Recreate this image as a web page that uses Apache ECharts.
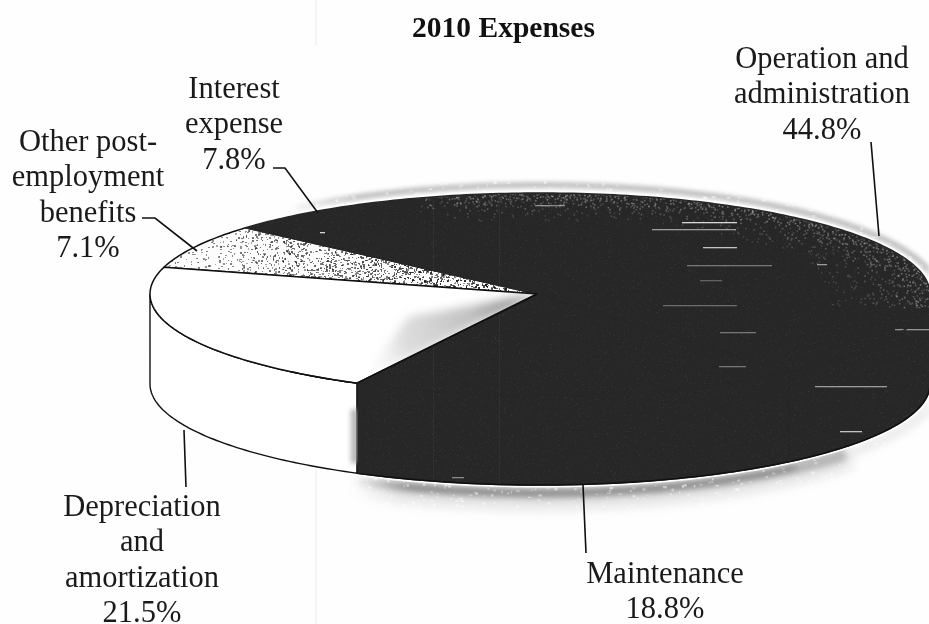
<!DOCTYPE html>
<html>
<head>
<meta charset="utf-8">
<style>html,body{margin:0;padding:0;background:#fefefe}#c{width:929px;height:624px}</style>
<script src="https://cdn.jsdelivr.net/npm/echarts@6/dist/echarts.min.js"></script>
</head>
<body>
<div id="c"></div>
<script>
// 2010 expense shares, clockwise from the left edge of the pie
const categories = ['Other post-\nemployment\nbenefits', 'Interest\nexpense', 'Operation and\nadministration', 'Maintenance', 'Depreciation\nand\namortization'];
const shares = [7.1, 7.8, 44.8, 18.8, 21.5];
const titleText = '2010 Expenses';

// Tilted-disc geometry
const CX = 540, CY = 294, RX = 390, RY = 101, DEPTH = 90, HUB = [537, 294];
const START_DEG = 195.4;
const INK = '#101010', DARK = '#272727', SERIF = '"Liberation Serif","Times New Roman",serif';

const total = shares.reduce((a, b) => a + b, 0);
const rad = d => d * Math.PI / 180;
const rim = (deg, dy = 0, grow = 0) => [CX + (RX + grow) * Math.cos(rad(deg)), CY + (RY + grow) * Math.sin(rad(deg)) + dy];
function sliceSpan(i) {
  let from = START_DEG;
  for (let k = 0; k < i; k++) from += shares[k] / total * 360;
  return [from, from + shares[i] / total * 360];
}
function arc(a, b, dy = 0, grow = 0) {
  const pts = [], n = Math.max(2, Math.ceil(Math.abs(b - a)));
  for (let k = 0; k <= n; k++) pts.push(rim(a + (b - a) * k / n, dy, grow));
  return pts;
}
// Deterministic generator for print grain
function grain(seed) {
  let s = seed;
  return () => (s = (s * 1664525 + 1013904223) >>> 0) / 4294967296;
}
function makeCanvas() {
  const c = document.createElement('canvas');
  c.width = 929; c.height = 624;
  return c;
}
// Paints on a scratch layer, then lays the whole layer down once through a blur
function softLayer(target, blur, paint) {
  const layer = makeCanvas();
  paint(layer.getContext('2d'));
  const g = target.getContext('2d');
  g.filter = 'blur(' + blur + 'px)';
  g.drawImage(layer, 0, 0);
  g.filter = 'none';
}
function tracePath(g, pts) {
  g.beginPath();
  pts.forEach((p, k) => k ? g.lineTo(p[0], p[1]) : g.moveTo(p[0], p[1]));
}
function fullImage(canvas) {
  return { type: 'image', style: { image: canvas, x: 0, y: 0, width: 929, height: 624 } };
}
// Halftone for the dotted slice: dots grow denser and darker towards the hub
function stippleTexture() {
  const c = makeCanvas(), g = c.getContext('2d'), r = grain(11);
  g.fillStyle = '#fcfcfc'; g.fillRect(0, 0, 929, 624);
  softLayer(c, 0.45, d => {
    for (let y = 225; y < 300; y++) for (let x = 160; x < 545; x++) {
      const t = (x - 160) / 380;
      if (r() < 0.025 + 0.24 * t) {
        d.fillStyle = 'rgba(25,25,25,' + (0.35 + 0.6 * t * r() + 0.2 * r()) + ')';
        d.fillRect(x, y, 1 + (r() < 0.5 ? 1 : 0), 1 + (r() < 0.4 ? 1 : 0));
      }
    }
  });
  return c;
}
// Dark face: fine grain, lighter halftone along the back rim, scanner streaks
function darkTexture() {
  const c = makeCanvas(), g = c.getContext('2d'), r = grain(5);
  g.fillStyle = DARK; g.fillRect(0, 0, 929, 624);
  for (let y = 185; y < 500; y++) for (let x = 240; x < 929; x++) {
    if (r() < 0.05) { g.fillStyle = 'rgba(62,62,62,.45)'; g.fillRect(x, y, 1, 1); }
  }
  softLayer(c, 0.6, d => {
    for (let y = 185; y < CY + 12; y += 2) for (let x = 412; x < 929; x += 2) {
      const dx = (x - CX) / RX, dy = (y - CY) / RY, rho = Math.sqrt(dx * dx + dy * dy);
      if (rho > 0.74 && rho < 1.02) {
        const k = (rho - 0.74) / 0.26;
        const fade = x < 470 ? (x - 412) / 58 : 1;
        if (r() < (0.06 + 0.42 * k * k) * fade) {
          d.fillStyle = 'rgba(175,175,175,' + (0.2 + 0.5 * k * r()) + ')';
          d.fillRect(x + r() * 2, y + r() * 2, 1.6, 1.6);
        }
      }
    }
  });
  softLayer(c, 0.4, d => {
    const streaks = [[682,737,222,.9],[652,736,229,.6],[703,737,247,.8],[687,772,265,.4],[817,827,264,.6],[663,737,305,.35],
      [720,756,332,.4],[719,746,366,.4],[815,887,386,.6],[840,862,431,.8],[895,929,329,.55],[320,325,232,.9],[452,464,477,.5],
      [535,565,205,.5],[700,722,280,.3],[820,862,222,.25]];
    streaks.forEach(s => {
      d.fillStyle = 'rgba(235,235,235,' + s[3] + ')';
      d.fillRect(s[0], s[2], s[1] - s[0], 1.3);
    });
  });
  g.fillStyle = 'rgba(70,70,70,.3)';
  g.fillRect(433, 200, 1, 280); g.fillRect(499, 195, 1, 290);
  return c;
}
// Blurred halo outside the back rim and under the dark wall
function haloTexture() {
  const c = makeCanvas(), g = c.getContext('2d'), r = grain(23);
  const stroke = (pts, width, style, blur) => softLayer(c, blur, d => {
    d.strokeStyle = typeof style === 'function' ? style(d) : style;
    d.lineWidth = width; d.lineCap = 'butt';
    tracePath(d, pts); d.stroke();
  });
  const fadeIn = (x0, x1, col) => d => {
    const lg = d.createLinearGradient(x0, 0, x1, 0);
    lg.addColorStop(0, col.replace('A', '0')); lg.addColorStop(1, col.replace('A', '1'));
    return lg;
  };
  stroke(arc(232, 358, 0, 8), 6, fadeIn(285, 360, 'rgba(192,192,192,A)'), 2);
  stroke(arc(118, 40, DEPTH, 15), 18, fadeIn(352, 400, 'rgba(225,225,225,A)'), 6);
  stroke(arc(118, 40, DEPTH, 8), 9, fadeIn(352, 410, 'rgba(140,140,140,A)'), 3);
  stroke(arc(50, 0, DEPTH, 8), 8, 'rgba(222,222,222,.7)', 4);
  // Mottling from the print screen
  softLayer(c, 0.5, d => {
    for (let k = 0; k < 2600; k++) {
      const x = 280 + r() * 649, y = 180 + r() * 330;
      d.fillStyle = 'rgba(255,255,255,' + (0.2 + r() * 0.35) + ')';
      d.fillRect(x, y, 1 + r() * 3, 1 + r() * 2);
    }
  });
  // Clean strip next to the disc
  const outline = arc(180, 360).concat(arc(0, 180, DEPTH));
  g.fillStyle = g.strokeStyle = '#fefefe'; g.lineWidth = 5; g.lineJoin = 'round';
  tracePath(g, outline); g.closePath(); g.fill(); g.stroke();
  return c;
}
// Grey falloff on the white slice beside the dark one: strongest at the hub, plus the wall patch
function shadeTexture() {
  const c = makeCanvas(), g = c.getContext('2d');
  const [a, b] = sliceSpan(4);
  const e = rim(a);
  const side = rim(a + 28), s = 0.4;
  const tip = [HUB[0] + (side[0] - HUB[0]) * s, HUB[1] + (side[1] - HUB[1]) * s];
  const far = [HUB[0] + (e[0] - HUB[0]) * 0.98, HUB[1] + (e[1] - HUB[1]) * 0.98];
  g.save();
  tracePath(g, [HUB].concat(arc(a, b))); g.closePath(); g.clip();
  softLayer(c, 5, d => {
    const rg = d.createRadialGradient(HUB[0], HUB[1], 0, HUB[0], HUB[1], 190);
    rg.addColorStop(0, 'rgba(95,95,95,1)');
    rg.addColorStop(0.35, 'rgba(175,175,175,.8)');
    rg.addColorStop(0.75, 'rgba(195,195,195,.55)');
    rg.addColorStop(1, 'rgba(235,235,235,0)');
    d.fillStyle = rg;
    tracePath(d, [HUB, tip, far]); d.closePath(); d.fill();
  });
  g.restore();
  softLayer(c, 2.5, d => {
    d.fillStyle = 'rgba(150,150,150,.7)';
    d.fillRect(e[0] - 6, e[1] + 26, 8, DEPTH - 36);
  });
  g.fillStyle = DARK;
  g.fillRect(e[0] + 1, e[1], 6, DEPTH);
  return c;
}
const stipple = { image: stippleTexture(), repeat: 'no-repeat' };
const darkFill = { image: darkTexture(), repeat: 'no-repeat' };
const haloCanvas = haloTexture();
const shadeCanvas = shadeTexture();
const faceFill = [stipple, darkFill, darkFill, darkFill, '#ffffff'];
const wallFill = ['#ffffff', '#ffffff', darkFill, darkFill, '#ffffff'];

function renderSlice(params, api) {
  const i = params.dataIndex;
  const [a, b] = sliceSpan(i);
  const face = [HUB].concat(arc(a, b));
  const children = [];
  // Front wall: only the part of the rim facing the viewer
  [[a, b], [a - 360, b - 360]].forEach(([p, q]) => {
    const lo = Math.max(p, 0), hi = Math.min(q, 180);
    if (hi > lo) {
      children.push({
        type: 'polygon',
        shape: { points: arc(lo, hi).concat(arc(hi, lo, DEPTH)) },
        style: { fill: wallFill[i], stroke: i === 4 ? INK : DARK, lineWidth: 1.4 }
      });
      if (i !== 4) {
        children.push({
          type: 'polyline', shape: { points: arc(lo, hi, DEPTH) },
          style: { stroke: INK, lineWidth: 1.6, fill: null }
        });
      }
    }
  });
  children.push({
    type: 'polygon',
    shape: { points: face },
    style: { fill: faceFill[i], stroke: i === 0 || i === 4 ? INK : DARK, lineWidth: 1.5, lineJoin: 'round' }
  });
  if (i === 4) {
    children.push(fullImage(shadeCanvas));
    // Re-ink the edges between the white and the dark slice
    const e = rim(a);
    children.push({ type: 'polyline', shape: { points: [HUB, e] }, style: { stroke: INK, lineWidth: 1.4, fill: null } });
    children.push({ type: 'polyline', shape: { points: arc(a, a + 12) }, style: { stroke: INK, lineWidth: 1.4, fill: null } });
  }
  return { type: 'group', children };
}
function renderHalo() {
  return { type: 'group', children: [fullImage(haloCanvas)] };
}

// Label blocks and their leader lines
const labelAnchors = [
  { x: 88, y: 125, lead: [[142, 218], [155, 218], [197, 251]] },
  { x: 234, y: 72, lead: [[273, 168], [285, 168], [318, 213]] },
  { x: 822, y: 42, lead: [[871, 142], [879, 236]] },
  { x: 665, y: 557, lead: [[583, 485], [586, 553]] },
  { x: 142, y: 490, lead: [[184, 430], [186, 487]] }
];
const labelGraphics = [];
categories.forEach((name, i) => {
  const an = labelAnchors[i];
  labelGraphics.push({
    type: 'text', x: an.x, y: an.y, silent: true, z: 5,
    style: { text: name + '\n' + shares[i].toFixed(1) + '%', font: '30.5px ' + SERIF, lineHeight: 35.5, fill: '#1a1a1a', textAlign: 'center', textVerticalAlign: 'top' }
  });
  labelGraphics.push({
    type: 'polyline', silent: true, z: 5, shape: { points: an.lead },
    style: { stroke: INK, lineWidth: 1.6, fill: null }
  });
});
// Faint paper fold
[[316, 0, 45], [316, 430, 624]].forEach(f => labelGraphics.unshift({
  type: 'line', silent: true, z: -1, shape: { x1: f[0], y1: f[1], x2: f[0], y2: f[2] },
  style: { stroke: '#f1f1f1', lineWidth: 1.5 }
}));

const chart = echarts.init(document.getElementById('c'), null, { renderer: 'canvas' });
chart.setOption({
  animation: false,
  backgroundColor: '#fefefe',
  title: {
    text: titleText, left: 498.5, top: 9, textAlign: 'center',
    textStyle: { fontFamily: SERIF, fontWeight: 'bold', fontSize: 29.5, color: '#111' }
  },
  graphic: labelGraphics,
  series: [
    { type: 'custom', coordinateSystem: 'none', silent: true, z: 1, data: [0], renderItem: renderHalo },
    { type: 'custom', coordinateSystem: 'none', silent: true, z: 2,
      data: categories.map((c, i) => ({ name: c, value: [shares[i]] })), renderItem: renderSlice }
  ]
});
</script>
</body>
</html>
